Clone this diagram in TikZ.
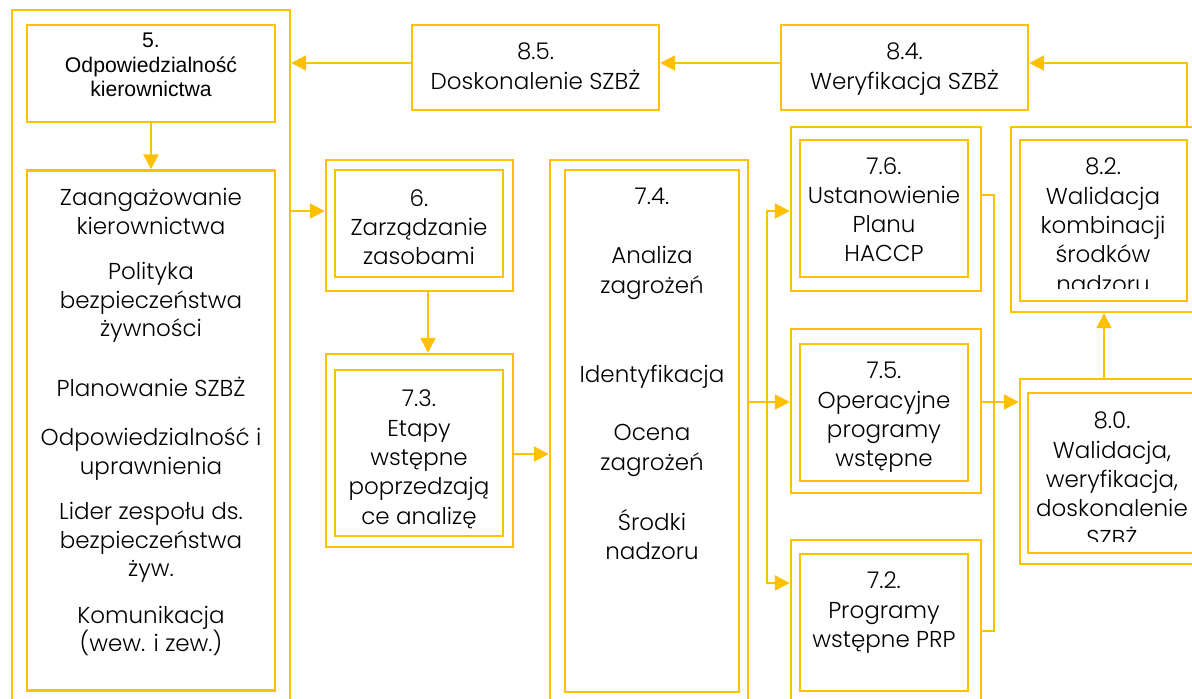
\documentclass[tikz,border=0pt]{standalone}
\usepackage{fontspec}
\setmainfont{Poppins Light}
\newfontfamily\arialfont{Liberation Sans}
\usetikzlibrary{arrows.meta}
\definecolor{gold}{RGB}{255,192,0}

\begin{document}
\begin{tikzpicture}[
    x=1pt, y=-1pt,
    frame/.style={rectangle, draw=gold, line width=2.4pt, inner sep=0pt},
    txt/.style={align=center, inner sep=0pt, anchor=north,
                font=\fontsize{23}{29.3}\selectfont},
    arr/.style={-{Triangle[length=15pt,width=15pt]}, draw=gold, line width=2.4pt},
    line/.style={draw=gold, line width=2.4pt},
]
\useasboundingbox (0,0) rectangle (1192,699);
\clip (0,0) rectangle (1192,699);

% left column: clause 5
\node[frame, minimum width=278pt, minimum height=720pt] (lf) at (151,370) {};
\node[frame, minimum width=248pt, minimum height=97pt] (b5) at (151,73.5) {};
\node[txt, font=\arialfont\fontsize{21.2}{24.5}\selectfont] (t5) at (151,33)
  {5.\\Odpowiedzialność\\kierownictwa};
\node[frame, minimum width=248pt, minimum height=520pt] (mg) at (151,430.5) {};
\node[txt, font=\fontsize{23}{28.5}\selectfont] (tmg) at (151,188)
  {Zaangażowanie\\kierownictwa\\[17pt]Polityka\\bezpieczeństwa\\żywności\\[31pt]%
   Planowanie SZBŻ\\[21pt]Odpowiedzialność i\\uprawnienia\\[17pt]%
   Lider zespołu ds.\\bezpieczeństwa\\żyw.\\[18pt]Komunikacja\\(wew. i zew.)};

% top row: 8.5 and 8.4
\node[frame, minimum width=247pt, minimum height=85pt] (b85) at (535.5,67.5) {};
\node[txt] (t85) at (535.5,43) {8.5.\\Doskonalenie SZBŻ};
\node[frame, minimum width=247pt, minimum height=85pt] (b84) at (904.5,67.5) {};
\node[txt] (t84) at (904.5,43) {8.4.\\Weryfikacja SZBŻ};

% 6 and 7.3
\node[frame, minimum width=187pt, minimum height=131pt] (o6) at (419.5,225.5) {};
\node[frame, minimum width=168pt, minimum height=107pt] (b6) at (419,223.5) {};
\node[txt] (t6) at (419,189) {6.\\Zarządzanie\\zasobami};
\node[frame, minimum width=187pt, minimum height=193pt] (o73) at (419.5,450.5) {};
\node[frame, minimum width=168pt, minimum height=166pt] (b73) at (419,453) {};
\node[txt] (t73) at (419,390) {7.3.\\Etapy\\wstępne\\poprzedzają\\ce analizę};

% 7.4
\node[frame, minimum width=198pt, minimum height=570pt] (o74) at (649,445) {};
\node[frame, minimum width=174pt, minimum height=522pt] (b74) at (652,431) {};
\node[txt] (t74) at (652,188)
  {7.4.\\[30pt]Analiza\\zagrożeń\\[60pt]Identyfikacja\\[29pt]Ocena\\zagrożeń\\[31pt]%
   Środki\\nadzoru};

% 7.6, 7.5, 7.2
\node[frame, minimum width=190pt, minimum height=164pt] (o76) at (886,209) {};
\node[frame, minimum width=168pt, minimum height=137pt] (b76) at (884,208.5) {};
\node[txt] (t76) at (884,157) {7.6.\\Ustanowienie\\Planu\\HACCP};
\node[frame, minimum width=190pt, minimum height=164pt] (o75) at (886,411) {};
\node[frame, minimum width=168pt, minimum height=137pt] (b75) at (884,412.5) {};
\node[txt] (t75) at (884,362) {7.5.\\Operacyjne\\programy\\wstępne};
\node[frame, minimum width=190pt, minimum height=200pt] (o72) at (886,640) {};
\node[frame, minimum width=168pt, minimum height=137pt] (b72) at (884,622.5) {};
\node[txt] (t72) at (884,572) {7.2.\\Programy\\wstępne PRP};

% 8.2 and 8.0
\node[frame, minimum width=187pt, minimum height=185pt] (o82) at (1104.5,219.5) {};
\node[frame, minimum width=167pt, minimum height=161pt] (b82) at (1103.5,220.5) {};
\begin{scope}
\clip (1020,140) rectangle (1187,288);
\node[txt] (t82) at (1103,158) {8.2.\\Walidacja\\kombinacji\\środków\\nadzoru};
\end{scope}
\node[frame, minimum width=184pt, minimum height=185pt] (o80) at (1112,471.5) {};
\node[frame, minimum width=168pt, minimum height=160pt] (b80) at (1112,473) {};
\begin{scope}
\clip (1028,393) rectangle (1200,541);
\node[txt] (t80) at (1112,412) {8.0.\\Walidacja,\\weryfikacja,\\doskonalenie\\SZBŻ};
\end{scope}

% rows and columns of the connectors
\coordinate (y63) at (0,63);
\coordinate (y195) at (0,195);
\coordinate (y211) at (0,211);
\coordinate (y402) at (0,402);
\coordinate (y454) at (0,454);
\coordinate (y583) at (0,583);
\coordinate (y631) at (0,631);
\coordinate (x428) at (428,0);
\coordinate (x1104) at (1104,0);
\coordinate (up) at (1187,0);
\coordinate (split) at (767,402);
\coordinate (bus) at (994,402);

\draw[arr] (b5.south) -- (mg.north);
\draw[arr] (lf.east |- y211) -- (o6.west |- y211);
\draw[arr] (o6.south -| x428) -- (o73.north -| x428);
\draw[arr] (o73.east |- y454) -- (o74.west |- y454);
\draw[line] (o74.east |- y402) -- (split);
\draw[arr] (split) -- (o75.west |- split);
\draw[arr] (split) |- (o76.west |- y211);
\draw[arr] (split) |- (o72.west |- y583);
\draw[line] (o76.east |- y195) -| (bus) |- (o72.east |- y631);
\draw[arr] (o75.east |- y402) -- (o80.west |- y402);
\draw[arr] (o80.north -| x1104) -- (o82.south -| x1104);
\draw[arr] (o82.north -| up) |- (b84.east |- y63);
\draw[arr] (b84.west |- y63) -- (b85.east |- y63);
\draw[arr] (b85.west |- y63) -- (lf.east |- y63);
\end{tikzpicture}
\end{document}
